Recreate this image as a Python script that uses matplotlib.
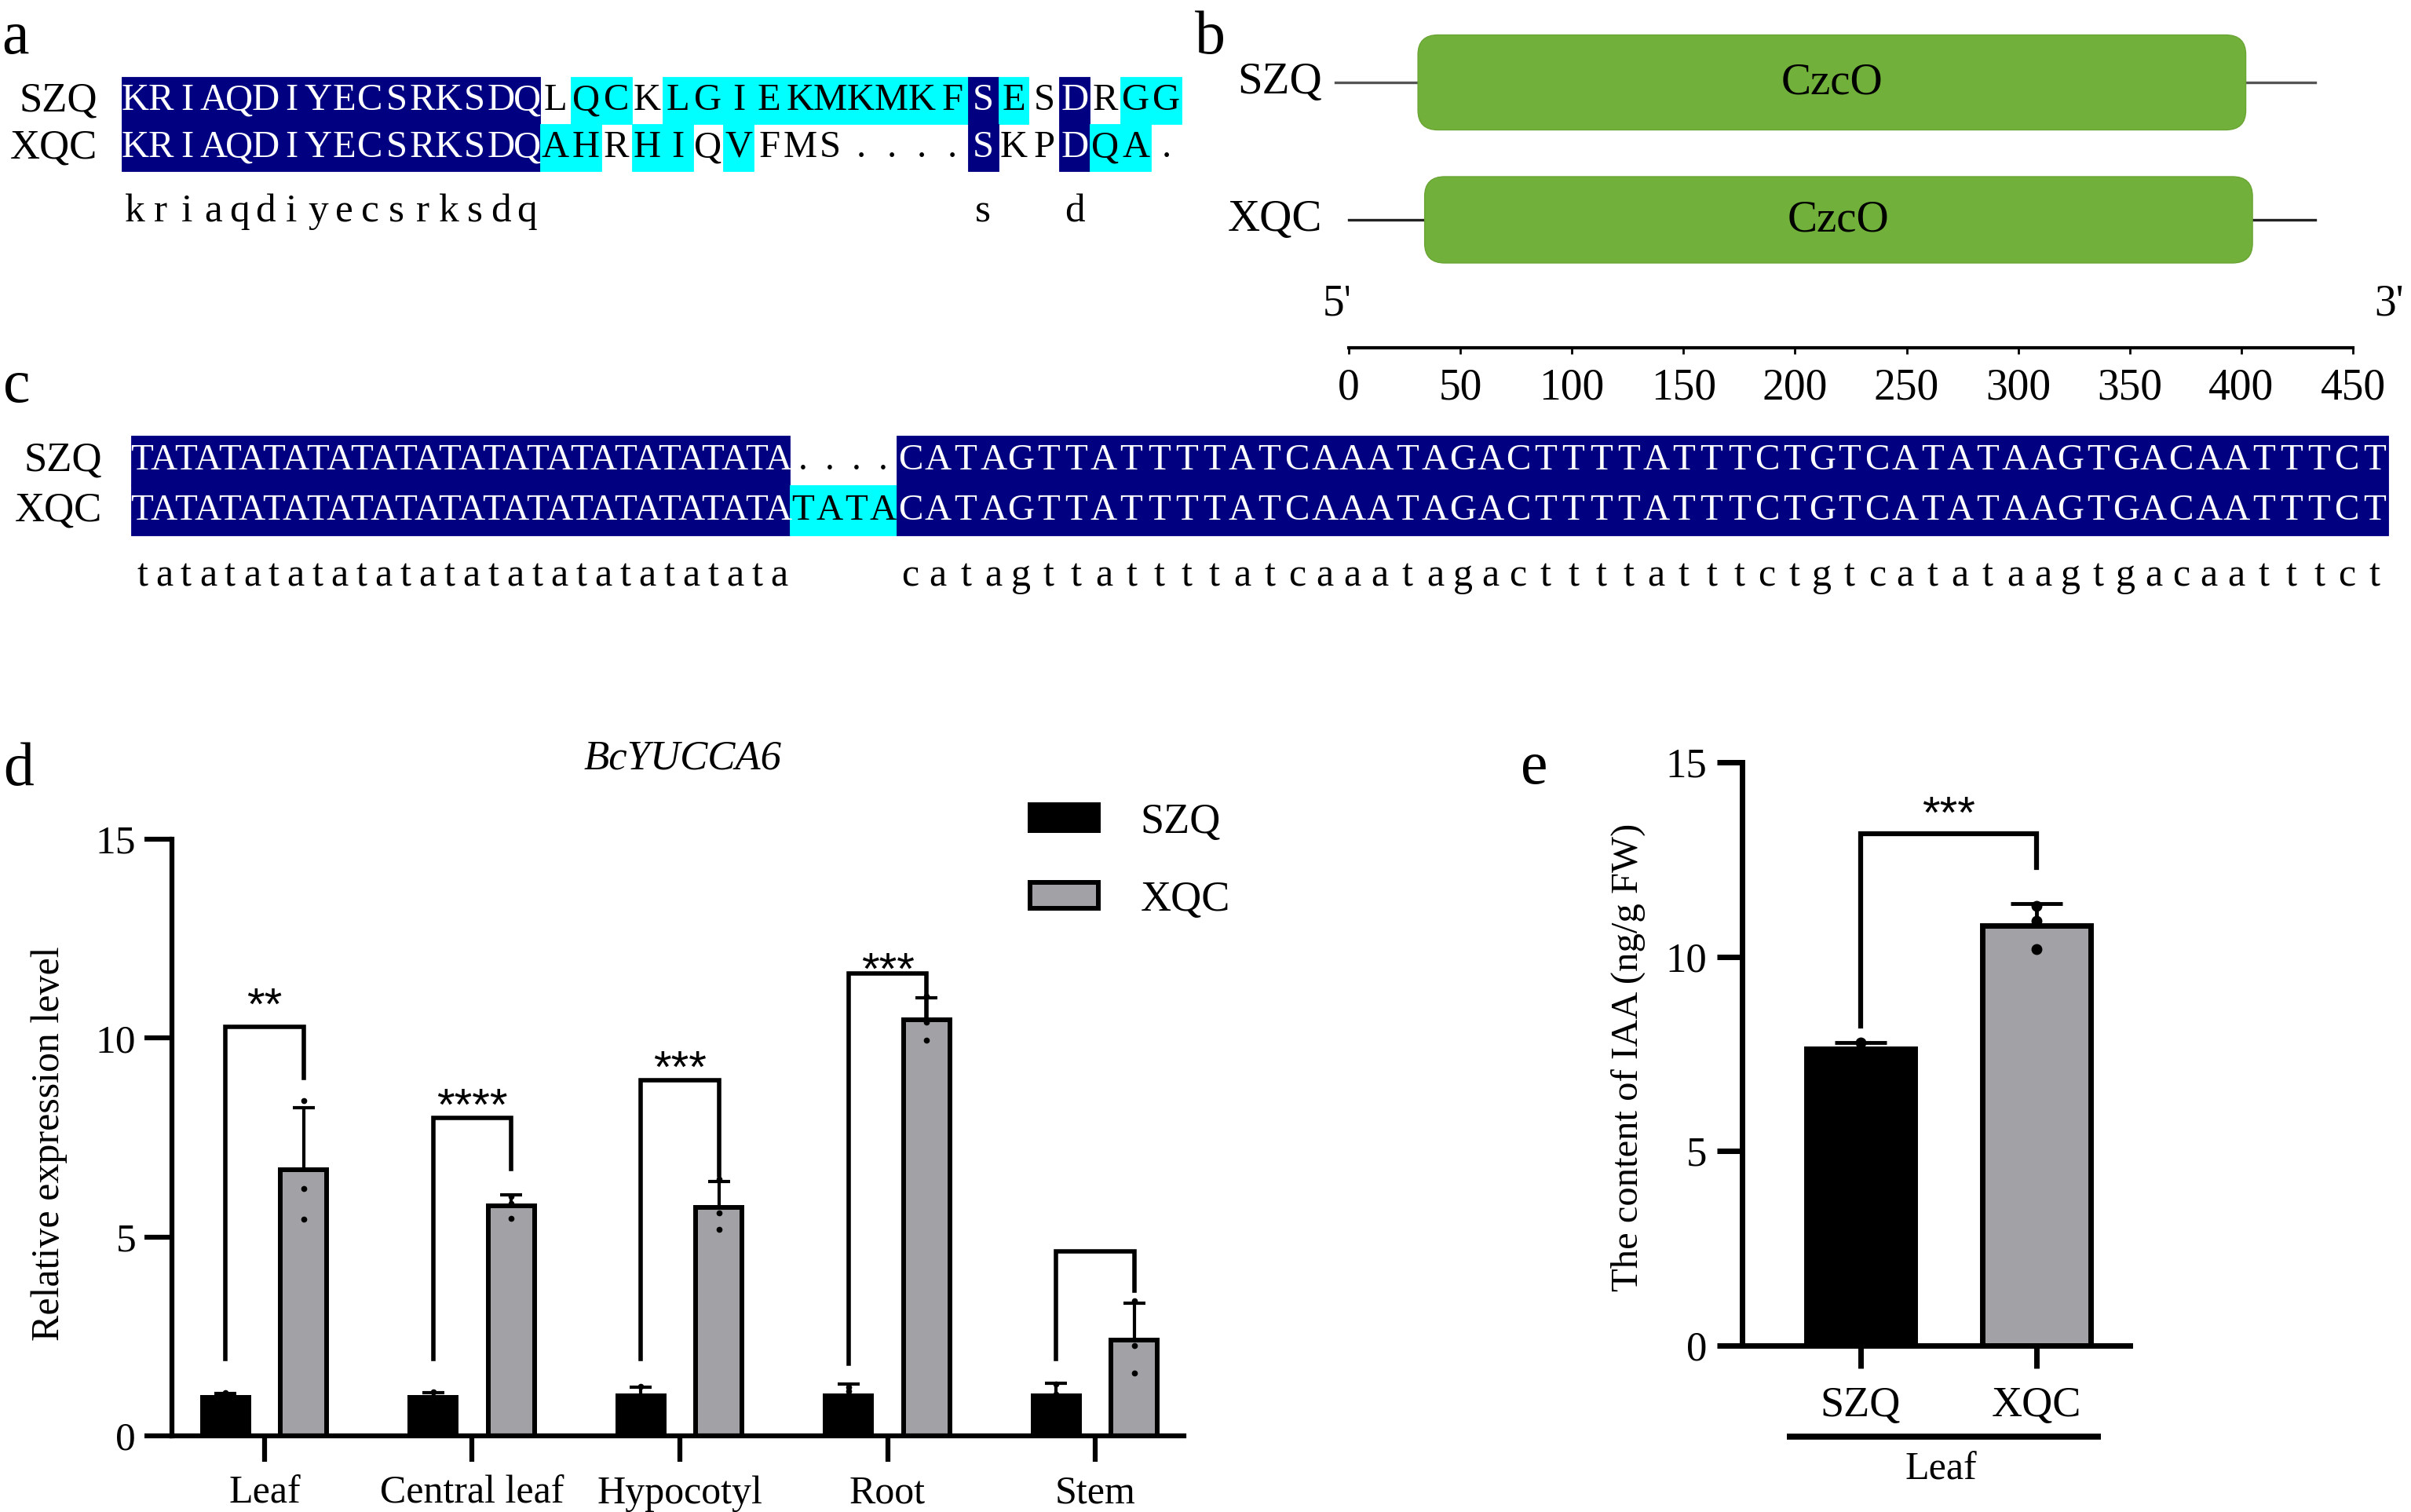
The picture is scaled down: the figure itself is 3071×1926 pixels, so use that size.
"""
# Figure: YUCCA6 alignment, domain structure, promoter alignment, expression and IAA content
"""

### Packages
import numpy as np
import matplotlib
matplotlib.use("Agg")
import matplotlib.pyplot as plt
from matplotlib.patches import Rectangle, FancyBboxPatch

plt.rcParams['font.family'] = ['Liberation Serif', 'DejaVu Serif']

### Data
# a: protein alignment (N = identical, C = similar, . = none)
a_labels = ["SZQ", "XQC"]
a_szq = "KRIAQDIYECSRKSDQLQCKLGIEKMKMKFSESDRGG"
a_xqc = "KRIAQDIYECSRKSDQAHRHIQVFMS....SKPDQA."
a_shade_szq = "NNNNNNNNNNNNNNNN.CC.CCCCCCCCCCNC.N.CC"
a_shade_xqc = "NNNNNNNNNNNNNNNNCC.CC.C.......N..NCC."
a_consensus = "kriaqdiyecsrksdq              s  d   "

# b: conserved domain
b_labels = ["SZQ", "XQC"]
b_domain = ["CzcO", "CzcO"]
b_dom_start = [31, 34]
b_dom_end = [402, 405]
b_seq_start = [-6, 0]
b_seq_end = [433, 433]
b_ticks = [0, 50, 100, 150, 200, 250, 300, 350, 400, 450]

# c: promoter alignment
c_labels = ["SZQ", "XQC"]
c_szq = ("TATATATATATATATATATATATATATATA" + "...."
         + "CATAGTTATTTTATCAAATAGACTTTTATTTCTGTCATATAAGTGACAATTTCT")
c_xqc = ("TATATATATATATATATATATATATATATA" + "TATA"
         + "CATAGTTATTTTATCAAATAGACTTTTATTTCTGTCATATAAGTGACAATTTCT")
c_shade_szq = [("N", 30), (".", 4), ("N", 54)]
c_shade_xqc = [("N", 30), ("C", 4), ("N", 54)]
c_consensus = ("tatatatatatatatatatatatatatata" + "    "
               + "catagttattttatcaaatagacttttatttctgtcatataagtgacaatttct")

# d: BcYUCCA6 relative expression (three replicates)
d_tissues = ["Leaf", "Central leaf", "Hypocotyl", "Root", "Stem"]
d_szq = [[1.08, 0.95, 0.86], [1.10, 0.95, 0.85], [1.25, 0.95, 0.80],
         [1.22, 1.13, 0.65], [1.30, 1.05, 0.65]]
d_xqc = [[8.43, 6.21, 5.45], [6.02, 5.85, 5.47], [6.45, 5.60, 5.20],
         [11.05, 9.95, 10.40], [3.40, 2.26, 1.58]]
d_brk_left = [1.94, 1.94, 1.94, 1.81, 1.94]
d_brk_top = [10.28, 8.00, 8.94, 11.63, 4.64]
d_brk_right = [9.00, 6.72, 6.56, 10.43, 3.65]
d_stars = ["**", "****", "***", "***", ""]
d_star_y = [11.13, 8.59, 9.54, 12.02, 0]

# e: IAA content in leaf
e_groups = ["SZQ", "XQC"]
e_pts = [[7.80, 7.60, 7.50], [11.30, 10.20, 10.93]]
e_brk = [8.22, 13.17, 12.29]
e_star_y = 13.98

### Layout helpers
W, H = 3071, 1926
NAVY, CYAN, GRAY, GREEN = "#000080", "#00ffff", "#a2a2a6", "#71b03b"
shade_colors = {"N": NAVY, "C": CYAN}


def fig_rect(left, top, right, bottom):
    return [left / W, 1 - bottom / H, (right - left) / W, (bottom - top) / H]


def expand(runs):
    return "".join(code * n for code, n in runs)


def col_edges(segs):
    edges = []
    for n, x0, x1 in segs:
        edges.extend(np.linspace(x0, x1, n + 1)[:-1])
    edges.append(segs[-1][2])
    return np.array(edges)


def draw_alignment(ax, seqs, shades, labels, cons, segs, top, row_h, cons_y,
                   fs, cons_fs, label_right):
    edges = col_edges(segs)
    centers = (edges[:-1] + edges[1:]) / 2
    for r, (seq, shade, lab) in enumerate(zip(seqs, shades, labels)):
        y0 = top + r * row_h
        j = 0
        # merge runs of same shading into one block
        while j < len(shade):
            k = j
            while k < len(shade) and shade[k] == shade[j]:
                k += 1
            if shade[j] in shade_colors:
                c = shade_colors[shade[j]]
                ax.add_patch(Rectangle((edges[j], y0), edges[k] - edges[j], row_h,
                                       facecolor=c, edgecolor=c, lw=0.6))
            j = k
        for j, ch in enumerate(seq):
            ax.text(centers[j], y0 + row_h / 2, ch, ha="center", va="center",
                    fontsize=fs, color="white" if shade[j] == "N" else "black")
        ax.text(label_right, y0 + row_h / 2, lab, ha="right", va="center", fontsize=38)
    for j, ch in enumerate(cons):
        if ch != " ":
            ax.text(centers[j], cons_y, ch, ha="center", va="center", fontsize=cons_fs)


### Figure
fig = plt.figure(figsize=(W / 100, H / 100), dpi=100)
ax_bg = fig.add_axes([0, 0, 1, 1])
ax_bg.set_xlim(0, W)
ax_bg.set_ylim(H, 0)
ax_bg.axis("off")

# Panel letters
for letter, px, py in [("a", 2, 68), ("b", 1522, 68), ("c", 4, 512), ("d", 4, 1000), ("e", 1937, 998)]:
    ax_bg.text(px, py, letter, ha="left", va="baseline", fontsize=56)

# a
draw_alignment(ax_bg, [a_szq, a_xqc], [a_shade_szq, a_shade_xqc], a_labels, a_consensus,
               [(16, 155, 688), (21, 688, 1505)], 98, 60, 270, 35, 37, 124)

# c
draw_alignment(ax_bg, [c_szq, c_xqc], [expand(c_shade_szq), expand(c_shade_xqc)], c_labels,
               c_consensus, [(30, 167, 1006), (4, 1006, 1142), (54, 1142, 3042)],
               555, 63.5, 734, 34, 36, 130)

# b
ax_b = fig.add_axes(fig_rect(1718, 20, 2997, 443))
ax_b.set_xlim(0, 450)
ax_b.set_ylim(443, 20)
for sp in ["top", "right", "left"]:
    ax_b.spines[sp].set_visible(False)
ax_b.spines["bottom"].set_linewidth(3)
ax_b.set_yticks([])
ax_b.set_xticks(b_ticks)
ax_b.tick_params(axis="x", length=6, width=2, pad=12, labelsize=40)
b_row_y = [105, 280]
b_box_h = [121, 110]
for i in range(2):
    y = b_row_y[i]
    ax_b.plot([b_seq_start[i], b_seq_end[i]], [y, y], color="#222222" if i else "#555555",
              lw=2.4, clip_on=False, zorder=1)
    box = FancyBboxPatch((b_dom_start[i], y - b_box_h[i] / 2), b_dom_end[i] - b_dom_start[i],
                         b_box_h[i], boxstyle="round,pad=0,rounding_size=9",
                         mutation_aspect=25 / 9, facecolor=GREEN, edgecolor="#6aa534",
                         lw=1, zorder=2, clip_on=False)
    ax_b.add_patch(box)
    ax_b.text((b_dom_start[i] + b_dom_end[i]) / 2, y, b_domain[i], ha="center", va="center",
              fontsize=41, zorder=3)
    ax_b.text(-12, y, b_labels[i], ha="right", va="center", fontsize=41, clip_on=False)
ax_bg.text(1704, 388, "5'", ha="center", va="center", fontsize=40)
ax_bg.text(3043, 388, "3'", ha="center", va="center", fontsize=40)

# d
ax_d = fig.add_axes(fig_rect(219, 1069, 1508, 1829))
x = np.arange(len(d_tissues))
off, bw = 0.188, 0.223
szq_mean = np.array([np.mean(p) for p in d_szq])
szq_sd = np.array([np.std(p, ddof=1) for p in d_szq])
xqc_mean = np.array([np.mean(p) for p in d_xqc])
xqc_sd = np.array([np.std(p, ddof=1) for p in d_xqc])
ax_d.bar(x - off, szq_mean, bw, color="black", edgecolor="black", lw=4.3, zorder=2, label="SZQ")
ax_d.bar(x + off, xqc_mean, bw, color=GRAY, edgecolor="black", lw=4.3, zorder=2, label="XQC")
ax_d.errorbar(x - off, szq_mean, yerr=[np.zeros(5), szq_sd], fmt="none", ecolor="black",
              elinewidth=3, capsize=10, capthick=3, zorder=3)
ax_d.errorbar(x + off, xqc_mean, yerr=[np.zeros(5), xqc_sd], fmt="none", ecolor="black",
              elinewidth=3, capsize=10, capthick=3, zorder=3)
for i in range(len(d_tissues)):
    ax_d.plot([x[i] - off] * 3, d_szq[i], "o", ms=4.5, color="black", zorder=4)
    ax_d.plot([x[i] + off] * 3, d_xqc[i], "o", ms=4.5, color="black", zorder=4)
    ax_d.plot([x[i] - off, x[i] - off, x[i] + off, x[i] + off],
              [d_brk_left[i], d_brk_top[i], d_brk_top[i], d_brk_right[i]],
              color="black", lw=4, solid_joinstyle="miter", zorder=3)
    if d_stars[i]:
        ax_d.text(x[i], d_star_y[i] - 0.66, d_stars[i], ha="center", va="baseline",
                  fontsize=42, family=["Liberation Sans", "DejaVu Sans"])
ax_d.set_xlim(-0.446, 4.427)
ax_d.set_ylim(0, 15)
for sp in ["top", "right"]:
    ax_d.spines[sp].set_visible(False)
for sp in ["left", "bottom"]:
    ax_d.spines[sp].set_linewidth(4.5)
ax_d.set_yticks([0, 5, 10, 15])
ax_d.tick_params(axis="y", length=25, width=4.5, pad=8, labelsize=37)
ax_d.set_xticks(x, d_tissues)
ax_d.tick_params(axis="x", length=24, width=4.5, pad=12, labelsize=36)
ax_d.set_ylabel("Relative expression level", fontsize=36, va="center")
ax_d.yaxis.set_label_coords(-0.121, 0.49)
ax_d.legend(loc="upper left", bbox_to_anchor=(1312 / W, 1 - 1022 / H),
            bbox_transform=fig.transFigure, frameon=False, fontsize=39,
            handlelength=1.6, handleheight=0.55, handletextpad=1.0,
            labelspacing=0.9, borderaxespad=0, borderpad=0)
ax_bg.text(870, 967, "BcYUCCA6", style="italic", fontsize=38, ha="center", va="center")

# e
ax_e = fig.add_axes(fig_rect(2219, 971, 2713, 1714))
xe = np.arange(len(e_groups))
e_mean = np.array([np.mean(p) for p in e_pts])
e_sd = np.array([np.std(p, ddof=1) for p in e_pts])
ax_e.bar(xe, e_mean, 0.62, color=["black", GRAY], edgecolor="black", lw=5, zorder=2)
ax_e.errorbar(xe, e_mean, yerr=[np.zeros(2), e_sd], fmt="none", ecolor="black",
              elinewidth=3.5, capsize=24, capthick=3.5, zorder=3)
for i in range(len(e_groups)):
    ax_e.plot([xe[i]] * 3, e_pts[i], "o", ms=9, color="black", zorder=4)
ax_e.plot([0, 0, 1, 1], e_brk[:2] + [e_brk[1], e_brk[2]], color="black", lw=4.5,
          solid_joinstyle="miter", zorder=3)
ax_e.text(0.5, e_star_y - 0.68, "***", ha="center", va="baseline", fontsize=42,
          family=["Liberation Sans", "DejaVu Sans"])
ax_e.set_xlim(-0.674, 1.531)
ax_e.set_ylim(0, 15)
for sp in ["top", "right"]:
    ax_e.spines[sp].set_visible(False)
for sp in ["left", "bottom"]:
    ax_e.spines[sp].set_linewidth(5)
ax_e.set_yticks([0, 5, 10, 15])
ax_e.tick_params(axis="y", length=23, width=5, pad=9, labelsize=38)
ax_e.set_xticks(xe, e_groups)
ax_e.tick_params(axis="x", length=21, width=5, pad=16, labelsize=39)
ax_e.set_ylabel("The content of IAA (ng/g FW)", fontsize=35, va="center")
ax_e.yaxis.set_label_coords(-0.2935, 0.494)
ax_e.plot([-0.42, 1.366], [-2.34, -2.34], color="black", lw=5.5, clip_on=False,
          solid_capstyle="butt")
ax_e.text(0.455, -3.19, "Leaf", ha="center", va="center", fontsize=36)

fig.savefig("out.png", dpi=100)
plt.close(fig)
